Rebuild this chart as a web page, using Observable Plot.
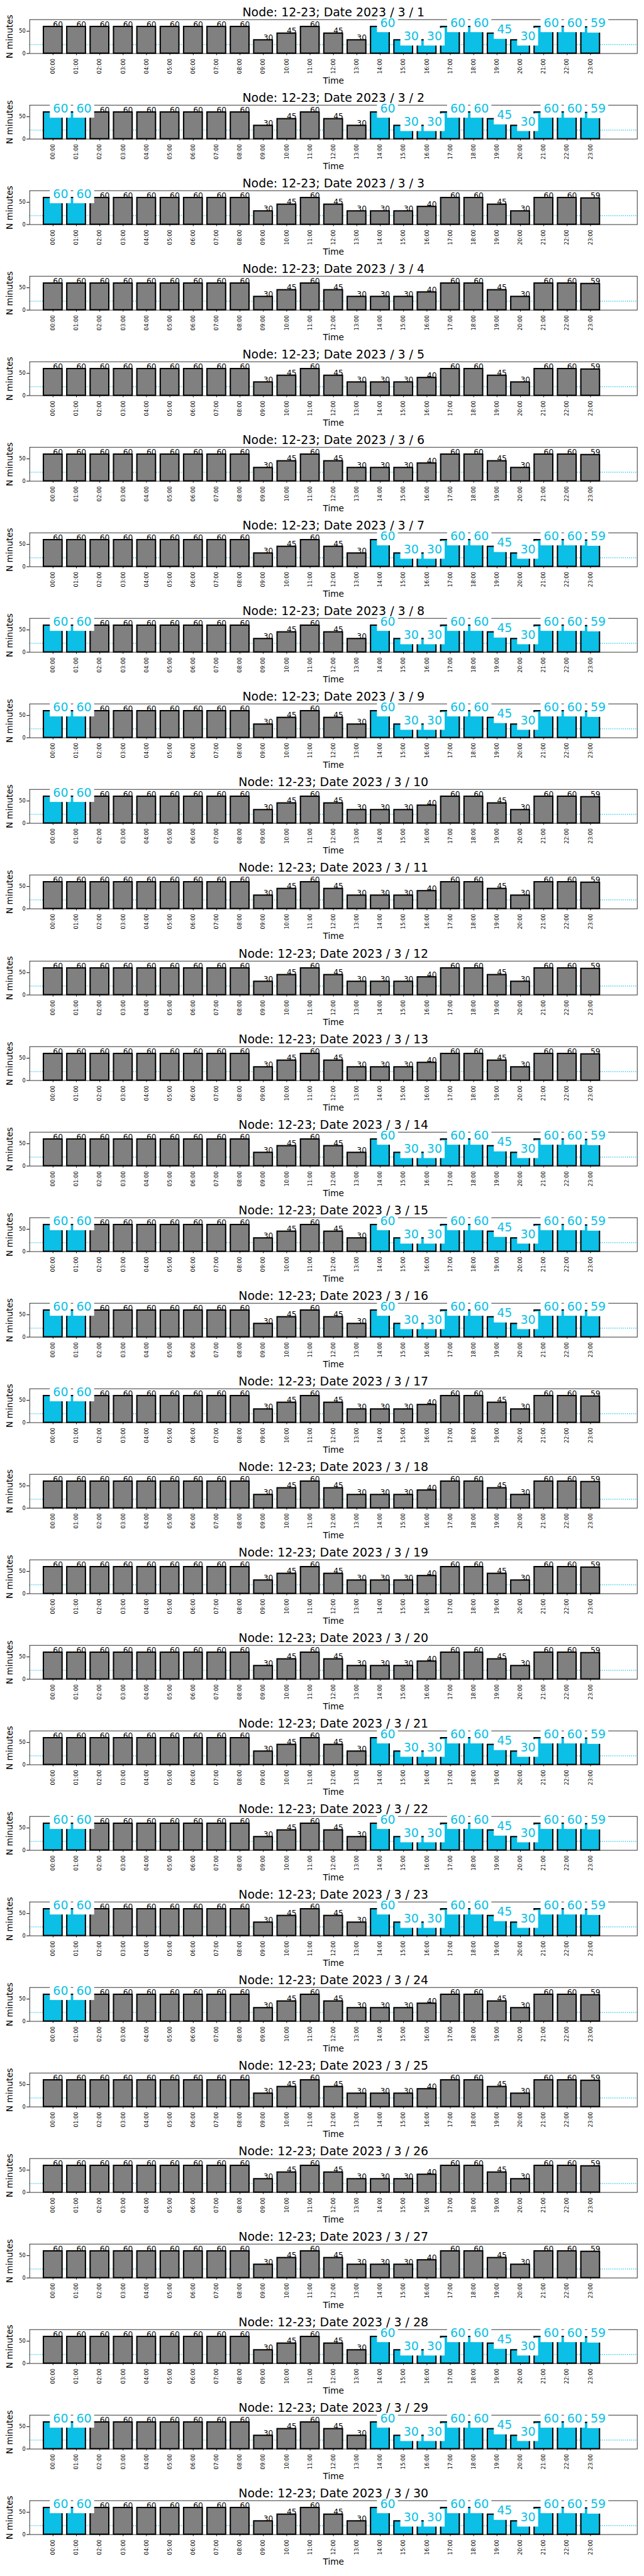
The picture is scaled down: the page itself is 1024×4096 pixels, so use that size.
<!DOCTYPE html>
<html><head><meta charset="utf-8">
<script src="https://cdn.jsdelivr.net/npm/d3@7"></script>
<script src="https://cdn.jsdelivr.net/npm/@observablehq/plot@0.6"></script>
<style>
body{margin:0;background:#fff;}
#charts{width:1024px;}
#charts svg{display:block;}
</style></head><body><div id="charts"></div>
<script>
// ---- data ----
const node = "12-23";
const year = 2023, month = 3;
const days = [1,2,3,4,5,6,7,8,9,10,11,12,13,14,15,16,17,18,19,20,21,22,23,24,25,26,27,28,29,30];
const hours = ["00:00","01:00","02:00","03:00","04:00","05:00","06:00","07:00","08:00","09:00","10:00","11:00",
               "12:00","13:00","14:00","15:00","16:00","17:00","18:00","19:00","20:00","21:00","22:00","23:00"];
// minutes per hour on days with an afternoon session
const minutesAfternoonDays = [60,60,60,60,60,60,60,60,60,30,45,60,45,30,60,30,30,60,60,45,30,60,60,59];
// minutes per hour on the other days
const minutesOtherDays     = [60,60,60,60,60,60,60,60,60,30,45,60,45,30,30,30,40,60,60,45,30,60,60,59];
// highlighted (cyan) hours
const morningHours = ["00:00","01:00"];
const afternoonHours = ["14:00","15:00","16:00","17:00","18:00","19:00","20:00","21:00","22:00","23:00"];
const morningDays = [2,3,8,9,10,15,16,17,22,23,24,29,30];
const afternoonDays = [1,2,7,8,9,14,15,16,21,22,23,28,29,30];
const threshold = 20;
const yTicks = [0, 50];

// ---- style ----
const s = 0.682;
const cyan = "#0bbfe6", gray = "#808080";
const font = "DejaVu Sans";
const W = 1024;
const pitch = 199.5 * s;
const marginTop = 45 * s, frameH = 79 * s;

const root = document.getElementById("charts");
for (const day of days) {
  const profile = afternoonDays.includes(day) ? minutesAfternoonDays : minutesOtherDays;
  const data = hours.map((h, i) => {
    const hl = (morningDays.includes(day) && morningHours.includes(h)) ||
               (afternoonDays.includes(day) && afternoonHours.includes(h));
    return {i, hour: h, v: profile[i], hl};
  });
  const plain = data.filter(d => !d.hl), hi = data.filter(d => d.hl);
  const title = `Node: ${node}; Date ${year} / ${month} / ${day}`;
  const svg = Plot.plot({
    width: W, height: pitch,
    marginTop, marginBottom: pitch - marginTop - frameH,
    marginLeft: 68.4 * s, marginRight: W - 1485 * s,
    style: {fontFamily: font, background: "white", color: "black", overflow: "visible"},
    x: {type: "linear", domain: [-1, 25]},
    y: {domain: [0, 76]},
    marks: [
      Plot.ruleY([threshold], {stroke: cyan, strokeWidth: 1.4, strokeDasharray: "1.4,1.9"}),
      Plot.rectY(data, {x1: d => d.i - 0.4, x2: d => d.i + 0.4, y1: 0, y2: "v",
        fill: d => d.hl ? cyan : gray, stroke: "black", strokeWidth: 3 * s}),
      Plot.frame({stroke: "black", strokeWidth: 0.8}),
      Plot.axisX({ticks: data.map(d => d.i), tickFormat: i => hours[i], tickRotate: -90,
        tickSize: 3, tickPadding: 5, fontSize: 8.5, label: null}),
      Plot.axisY({ticks: yTicks, tickSize: 4.5, tickPadding: 2, fontSize: 8.2, label: null}),
      Plot.text(plain, {x: "i", y: "v", text: d => String(d.v), textAnchor: "start", lineAnchor: "bottom",
        fontSize: 18 * s, fill: "black"}),
      Plot.rect(hi, {x1: "i", x2: "i", y1: "v", y2: "v", fill: "white",
        insetLeft: -4.6, insetRight: -28.7, insetTop: -19, insetBottom: -9.1}),
      Plot.text(hi, {x: "i", y: "v", text: d => String(d.v), textAnchor: "start", lineAnchor: "bottom",
        fontSize: 27.8 * s, fill: cyan}),
      Plot.text([title], {frameAnchor: "top", textAnchor: "middle", lineAnchor: "bottom", dy: -7.7 * s, fontSize: 27.8 * s, fill: "black"}),
      Plot.text(["Time"], {frameAnchor: "bottom", textAnchor: "middle", lineAnchor: "bottom", dy: 71 * s, fontSize: 20 * s, fill: "black"}),
      Plot.text(["N minutes"], {frameAnchor: "left", rotate: -90, textAnchor: "middle", lineAnchor: "middle", dx: -46 * s, fontSize: 20 * s, fill: "black"})
    ]
  });
  root.appendChild(svg);
}
</script></body></html>
